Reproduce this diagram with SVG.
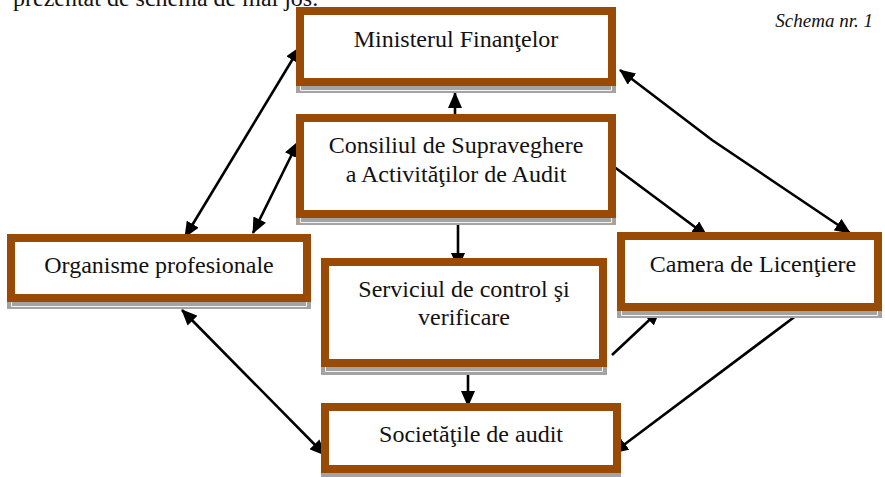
<svg xmlns="http://www.w3.org/2000/svg" width="885" height="477" viewBox="0 0 885 477">
<style>
  .box{fill:#fff;stroke:#994a05;stroke-width:8}
  .sh{fill:#a3a3a3}
  .shl{fill:none;stroke:#f4f4f4;stroke-width:1}
  .t{font-family:"Liberation Serif","Times New Roman",serif;font-size:24px;fill:#111;text-anchor:middle}
  .c{fill:none;stroke:#000;stroke-width:2.6}
</style>
<defs>
  <marker id="ah" markerUnits="userSpaceOnUse" markerWidth="16" markerHeight="14" viewBox="0 0 16 14" refX="15" refY="7" orient="auto-start-reverse">
    <path d="M0,0 L16,7 L0,14 z" fill="#000"/>
  </marker>
</defs>
<text x="13" y="6" style="font-family:'Liberation Serif',serif;font-size:24px;fill:#111">prezentat de schema de mai jos.</text>
<text x="873" y="27" style="font-family:'Liberation Serif',serif;font-size:19px;font-style:italic;fill:#111;text-anchor:end">Schema nr. 1</text>

<g id="connectors">
  <line class="c" x1="185" y1="237" x2="300" y2="47" marker-start="url(#ah)" marker-end="url(#ah)"/>
  <line class="c" x1="253" y1="233" x2="298" y2="142" marker-start="url(#ah)" marker-end="url(#ah)"/>
  <line class="c" x1="182" y1="310" x2="325" y2="455" marker-start="url(#ah)" marker-end="url(#ah)"/>
  <line class="c" x1="455" y1="114" x2="455" y2="93" marker-end="url(#ah)"/>
  <line class="c" x1="458" y1="222" x2="458" y2="268" marker-end="url(#ah)"/>
  <line class="c" x1="468" y1="358" x2="468" y2="406" marker-end="url(#ah)"/>
  <line class="c" x1="613" y1="166" x2="707" y2="236" marker-end="url(#ah)"/>
  <polyline class="c" points="620,70 712,140 850,233" marker-start="url(#ah)" marker-end="url(#ah)"/>
  <line class="c" x1="612" y1="355" x2="660" y2="310" marker-end="url(#ah)"/>
  <line class="c" x1="805" y1="309" x2="613" y2="453" marker-end="url(#ah)"/>
</g>

<g id="ministerul">
  <rect class="sh" x="296" y="86" width="320" height="7"/>
  <path class="shl" d="M300.5,86 V90.5 H611.5 V86"/>
  <rect class="box" x="300" y="11" width="312" height="71"/>
  <text class="t" x="456" y="47">Ministerul Finanţelor</text>
</g>

<g id="consiliul">
  <rect class="sh" x="296" y="218" width="320" height="7"/>
  <path class="shl" d="M300.5,218 V222.5 H611.5 V218"/>
  <rect class="box" x="300" y="118" width="312" height="96"/>
  <text class="t" x="456" y="153">Consiliul de Supraveghere</text>
  <text class="t" x="456" y="182">a Activităţilor de Audit</text>
</g>

<g id="organisme">
  <rect class="sh" x="7" y="302" width="304" height="7"/>
  <path class="shl" d="M11.5,302 V306.5 H306.5 V302"/>
  <rect class="box" x="11" y="238" width="296" height="60"/>
  <text class="t" x="159" y="273">Organisme profesionale</text>
</g>

<g id="serviciul">
  <rect class="sh" x="321" y="367" width="286" height="8"/>
  <path class="shl" d="M325.5,367 V371.5 H602.5 V367"/>
  <rect class="box" x="325" y="262" width="278" height="101"/>
  <text class="t" x="464" y="297">Serviciul de control şi</text>
  <text class="t" x="464" y="325">verificare</text>
</g>

<g id="camera">
  <rect class="sh" x="617" y="311" width="265" height="7"/>
  <path class="shl" d="M621.5,311 V315.5 H877.5 V311"/>
  <rect class="box" x="621" y="236" width="257" height="71"/>
  <text class="t" x="753" y="272">Camera de Licenţiere</text>
</g>

<g id="societatile">
  <rect class="sh" x="321" y="473" width="300" height="4"/>
  <rect class="box" x="325" y="407" width="292" height="62"/>
  <text class="t" x="471" y="442">Societăţile de audit</text>
</g>
</svg>
